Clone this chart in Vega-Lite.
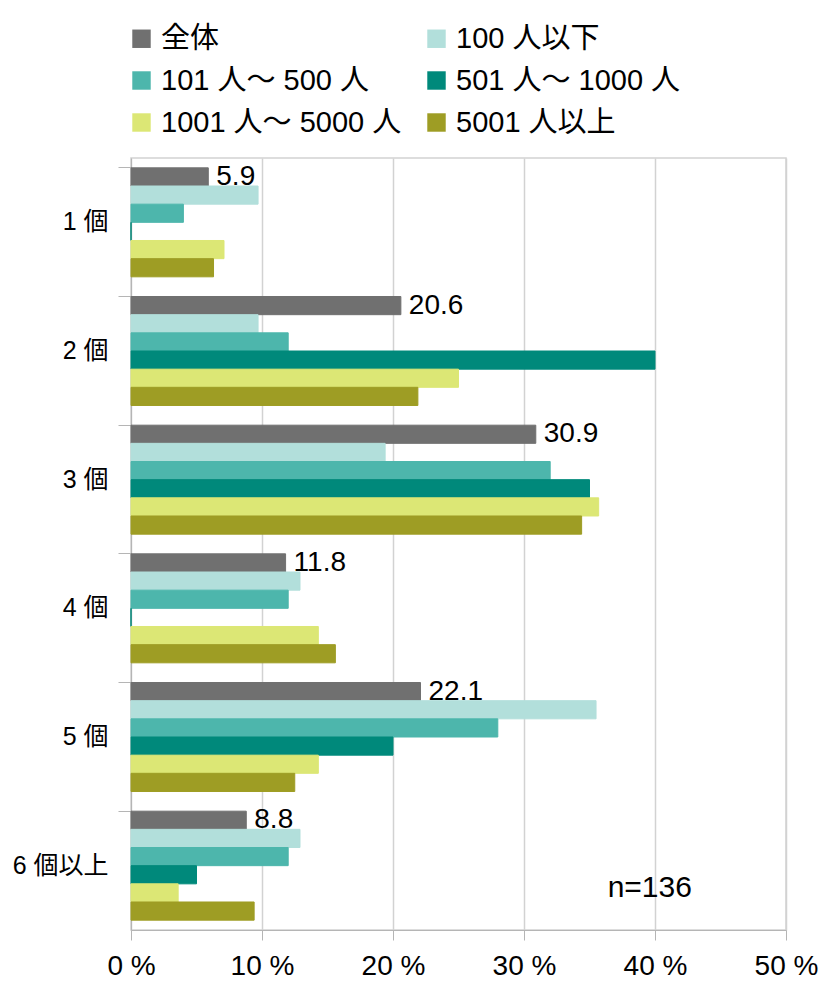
{
  "$schema": "https://vega.github.io/schema/vega-lite/v6.json",
  "autosize": {"type": "none"},
  "width": 655,
  "height": 772,
  "padding": {"left": 131, "top": 158, "right": 48, "bottom": 73},
  "background": "white",
  "datasets": {
    "shares": [
      {"cat": "1 個", "series": "全体", "value": 5.9},
      {"cat": "1 個", "series": "100 人以下", "value": 9.7},
      {"cat": "1 個", "series": "101 人～ 500 人", "value": 4.0},
      {"cat": "1 個", "series": "501 人～ 1000 人", "value": 0},
      {"cat": "1 個", "series": "1001 人～ 5000 人", "value": 7.1},
      {"cat": "1 個", "series": "5001 人以上", "value": 6.3},
      {"cat": "2 個", "series": "全体", "value": 20.6},
      {"cat": "2 個", "series": "100 人以下", "value": 9.7},
      {"cat": "2 個", "series": "101 人～ 500 人", "value": 12.0},
      {"cat": "2 個", "series": "501 人～ 1000 人", "value": 40.0},
      {"cat": "2 個", "series": "1001 人～ 5000 人", "value": 25.0},
      {"cat": "2 個", "series": "5001 人以上", "value": 21.9},
      {"cat": "3 個", "series": "全体", "value": 30.9},
      {"cat": "3 個", "series": "100 人以下", "value": 19.4},
      {"cat": "3 個", "series": "101 人～ 500 人", "value": 32.0},
      {"cat": "3 個", "series": "501 人～ 1000 人", "value": 35.0},
      {"cat": "3 個", "series": "1001 人～ 5000 人", "value": 35.7},
      {"cat": "3 個", "series": "5001 人以上", "value": 34.4},
      {"cat": "4 個", "series": "全体", "value": 11.8},
      {"cat": "4 個", "series": "100 人以下", "value": 12.9},
      {"cat": "4 個", "series": "101 人～ 500 人", "value": 12.0},
      {"cat": "4 個", "series": "501 人～ 1000 人", "value": 0},
      {"cat": "4 個", "series": "1001 人～ 5000 人", "value": 14.3},
      {"cat": "4 個", "series": "5001 人以上", "value": 15.6},
      {"cat": "5 個", "series": "全体", "value": 22.1},
      {"cat": "5 個", "series": "100 人以下", "value": 35.5},
      {"cat": "5 個", "series": "101 人～ 500 人", "value": 28.0},
      {"cat": "5 個", "series": "501 人～ 1000 人", "value": 20.0},
      {"cat": "5 個", "series": "1001 人～ 5000 人", "value": 14.3},
      {"cat": "5 個", "series": "5001 人以上", "value": 12.5},
      {"cat": "6 個以上", "series": "全体", "value": 8.8},
      {"cat": "6 個以上", "series": "100 人以下", "value": 12.9},
      {"cat": "6 個以上", "series": "101 人～ 500 人", "value": 12.0},
      {"cat": "6 個以上", "series": "501 人～ 1000 人", "value": 5.0},
      {"cat": "6 個以上", "series": "1001 人～ 5000 人", "value": 3.6},
      {"cat": "6 個以上", "series": "5001 人以上", "value": 9.4}
    ]
  },
  "data": {"name": "shares"},
  "encoding": {
    "y": {
      "field": "cat",
      "type": "nominal",
      "sort": null,
      "scale": {"paddingInner": 0.153, "paddingOuter": 0.0765},
      "axis": {
        "title": null,
        "bandPosition": 0,
        "tickSize": 13,
        "labelPadding": 10,
        "labelFontSize": 25,
        "labelColor": "black",
        "domainColor": "#b5b5b5",
        "tickColor": "#b5b5b5",
        "grid": false
      }
    },
    "yOffset": {
      "field": "series",
      "type": "nominal",
      "sort": ["全体", "100 人以下", "101 人～ 500 人", "501 人～ 1000 人", "1001 人～ 5000 人", "5001 人以上"]
    },
    "x": {
      "field": "value",
      "type": "quantitative",
      "scale": {"domain": [0, 50], "nice": false},
      "axis": {
        "title": null,
        "values": [0, 10, 20, 30, 40, 50],
        "labelExpr": "datum.value + ' %'",
        "labelFontSize": 28,
        "labelColor": "black",
        "labelPadding": 12,
        "tickSize": 10,
        "grid": true,
        "gridColor": "#d2d2d2",
        "gridWidth": 1.5,
        "domainColor": "#b5b5b5",
        "tickColor": "#b5b5b5",
        "labelFlush": false
      }
    }
  },
  "layer": [
    {
      "mark": {"type": "bar", "strokeWidth": 1},
      "encoding": {
        "color": {
          "field": "series",
          "type": "nominal",
          "scale": {
            "domain": ["全体", "100 人以下", "101 人～ 500 人", "501 人～ 1000 人", "1001 人～ 5000 人", "5001 人以上"],
            "range": ["#707070", "#b2dfdb", "#4db6ac", "#00897b", "#dce775", "#9e9d24"]
          },
          "legend": {
            "title": null,
            "orient": "none",
            "direction": "horizontal",
            "legendX": -4,
            "legendY": -134,
            "columns": 2,
            "columnPadding": 20,
            "rowPadding": 12,
            "symbolType": "square",
            "symbolSize": 340,
            "symbolStrokeWidth": 0,
            "labelFontSize": 29,
            "labelColor": "black",
            "labelOffset": 5,
            "labelLimit": 400,
            "padding": 0
          }
        },
        "stroke": {
          "field": "series",
          "type": "nominal",
          "scale": {
            "domain": ["全体", "100 人以下", "101 人～ 500 人", "501 人～ 1000 人", "1001 人～ 5000 人", "5001 人以上"],
            "range": ["#707070", "#b2dfdb", "#4db6ac", "#00897b", "#dce775", "#9e9d24"]
          },
          "legend": null
        }
      }
    },
    {
      "transform": [{"filter": "datum.series === '全体'"}],
      "mark": {"type": "text", "align": "left", "baseline": "middle", "dx": 8, "fontSize": 28, "color": "black"},
      "encoding": {
        "text": {"field": "value", "type": "quantitative", "format": ".1f"}
      }
    },
    {
      "data": {"values": [{"label": "n=136", "x": 39.6, "cat": "6 個以上"}]},
      "mark": {"type": "text", "align": "center", "baseline": "middle", "dy": 22, "fontSize": 30, "color": "black"},
      "encoding": {
        "x": {"field": "x", "type": "quantitative"},
        "y": {"field": "cat", "type": "nominal"},
        "yOffset": null,
        "text": {"field": "label"}
      }
    }
  ],
  "config": {
    "font": "Liberation Sans, Noto Sans CJK JP",
    "view": {"stroke": "#d2d2d2", "strokeWidth": 1.5},
    "axis": {"labelFont": "Liberation Sans, Noto Sans CJK JP"},
    "legend": {"labelFont": "Liberation Sans, Noto Sans CJK JP"}
  }
}
